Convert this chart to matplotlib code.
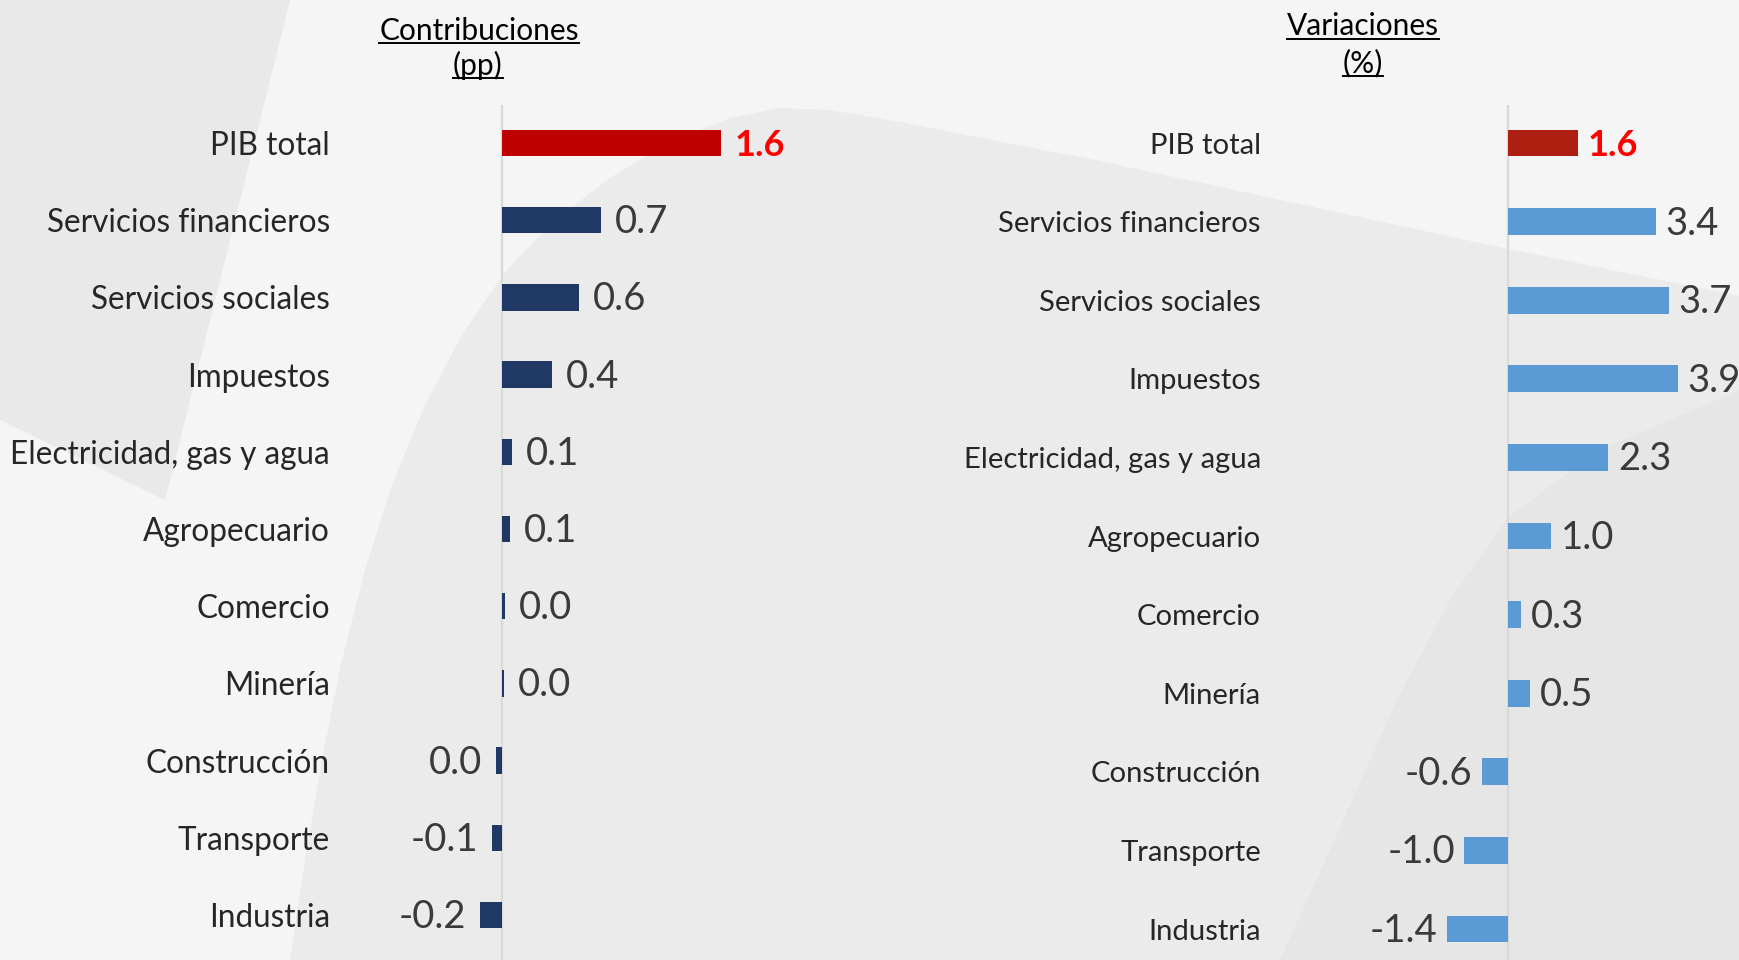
import matplotlib.pyplot as plt
from matplotlib.patches import Polygon
from matplotlib.lines import Line2D

categorias = ["PIB total", "Servicios financieros", "Servicios sociales", "Impuestos",
              "Electricidad, gas y agua", "Agropecuario", "Comercio", "Minería",
              "Construcción", "Transporte", "Industria"]

contribuciones = [1.59, 0.72, 0.56, 0.36, 0.07, 0.055, 0.02, 0.012, -0.04, -0.07, -0.16]
etiquetas_contrib = ["1.6", "0.7", "0.6", "0.4", "0.1", "0.1", "0.0", "0.0", "0.0", "-0.1", "-0.2"]

# variaciones (%)
variaciones = [1.6, 3.4, 3.7, 3.9, 2.3, 1.0, 0.3, 0.5, -0.6, -1.0, -1.4]
etiquetas_var = ["1.6", "3.4", "3.7", "3.9", "2.3", "1.0", "0.3", "0.5", "-0.6", "-1.0", "-1.4"]

W, H = 1740, 960
plt.rcParams['font.family'] = ['Lato', 'DejaVu Sans']

fig = plt.figure(figsize=(W / 100, H / 100), dpi=100)
fig.patch.set_facecolor('#f5f5f5')


def fpt(x, y):
    # pixel (y hacia abajo) -> fraccion de figura
    return (x / W, 1 - y / H)


def forma(puntos, color):
    fig.add_artist(Polygon([fpt(x, y) for x, y in puntos], closed=True,
                           transform=fig.transFigure, facecolor=color,
                           edgecolor='none', zorder=0))


# fondo decorativo
forma([(0, 0), (290, 0), (165, 500), (0, 420)], '#e9e9e9')
forma([(290, 960), (305, 860), (322, 760), (342, 660), (365, 570), (392, 485),
       (425, 405), (462, 335), (505, 272), (555, 220), (610, 178), (670, 142),
       (730, 118), (780, 108), (830, 110), (900, 122), (1100, 161), (1508, 249),
       (1740, 296), (1740, 960)], '#ebebeb')
forma([(1280, 960), (1330, 850), (1397, 700), (1450, 600), (1508, 517),
       (1600, 450), (1740, 390), (1740, 960)], '#e6e6e6')


def panel(x0, x1, cero, escala, fila0, paso, lbl_x, valores, etiquetas,
          color, color_pib, size_lbl, sep):
    y0, y1 = 105, 960
    ax = fig.add_axes([x0 / W, 1 - y1 / H, (x1 - x0) / W, (y1 - y0) / H])
    ax.set_xlim((x0 - cero) / escala, (x1 - cero) / escala)
    ax.set_ylim((y1 - fila0) / paso, (y0 - fila0) / paso)
    ax.patch.set_alpha(0)
    for s in ax.spines.values():
        s.set_visible(False)
    ax.set_xticks([])
    ax.set_yticks(range(len(categorias)), categorias, fontsize=size_lbl, color='#262626')
    ax.tick_params(axis='y', length=0, pad=(x0 - lbl_x) * 0.72)
    ax.axvline(0, color='#d9d9d9', lw=1.6, zorder=1)
    colores = [color_pib] + [color] * (len(valores) - 1)
    ax.barh(range(len(valores)), valores, height=0.34, color=colores, zorder=2)
    for i, (v, t) in enumerate(zip(valores, etiquetas)):
        if i == 0:
            kw = dict(color='#ff0000', fontweight='bold', fontsize=26)
        else:
            kw = dict(color='#3a3a3a', fontsize=27.5)
        ax.annotate(t, (v, i), xytext=(sep if v >= 0 else -sep, -1.5),
                    textcoords='offset points', ha='left' if v >= 0 else 'right',
                    va='center', annotation_clip=False, **kw)
    return ax


panel(420, 800, 502, 137.6, 143, 77.2, 330, contribuciones, etiquetas_contrib,
      '#203864', '#c00000', 22.7, 10)
panel(1380, 1740, 1508, 43.5, 143, 78.6, 1261, variaciones, etiquetas_var,
      '#5b9bd5', '#ae1f12', 21.1, 7)

# titulos subrayados
titulos = [("Contribuciones", 479, 40, 3), ("(pp)", 478, 75, 3),
           ("Variaciones", 1363, 35, 4), ("(%)", 1363, 72, 4)]
textos = []
for t, x, y, off in titulos:
    txt = fig.text(x / W, 1 - y / H, t, ha='center', va='baseline',
                   fontsize=21.5, color='black')
    textos.append((txt, y, off))

fig.canvas.draw()
r = fig.canvas.get_renderer()
for txt, y, off in textos:
    bb = txt.get_window_extent(r)
    yl = 1 - (y + off) / H
    fig.add_artist(Line2D([bb.x0 / W, bb.x1 / W], [yl, yl], transform=fig.transFigure,
                          color='black', lw=1.4))

fig.savefig('out.png', dpi=100, facecolor=fig.get_facecolor())
